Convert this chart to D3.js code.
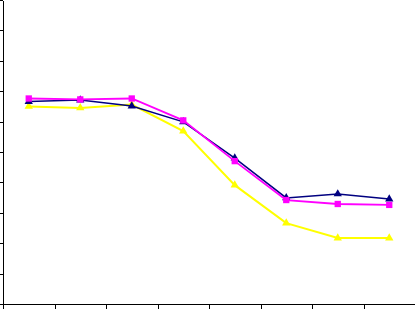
<!DOCTYPE html>
<html>
<head>
<meta charset="utf-8">
<script src="https://cdn.jsdelivr.net/npm/d3@7"></script>
<style>
  body { margin: 0; background: #fff; }
  .axis path, .axis line { stroke: #000; shape-rendering: crispEdges; }
  .axis text { display: none; }
</style>
</head>
<body>
<div id="chart"></div>
<script>
const categories = [1, 2, 3, 4, 5, 6, 7, 8];
const navyValues = [66.6, 67.1, 65.1, 59.9, 48.0, 34.9, 36.2, 34.5];
const magentaValues = [67.6, 67.3, 67.6, 60.4, 47.0, 34.2, 32.9, 32.6];
const yellowValues = [65.0, 64.5, 65.6, 56.9, 39.1, 26.6, 21.7, 21.7];
const yTicks = [0, 10, 20, 30, 40, 50, 60, 70, 80, 90, 100];

const margin = { top: 0, right: 0, bottom: 8, left: 3 },
  width = 415 - margin.left - margin.right,
  height = 312 - margin.top - margin.bottom;

const svg = d3.select('#chart')
  .append('svg')
  .attr('width', width + margin.left + margin.right)
  .attr('height', height + margin.top + margin.bottom)
  .append('g')
  .attr('transform', `translate(${margin.left},${margin.top})`);

// category boundaries on a linear scale, points sit in the middle
const x = d3.scaleLinear().domain([0, categories.length]).range([0, width]);
const y = d3.scaleLinear().domain([0, 100]).range([height, 0]);

svg.append('g')
  .attr('class', 'axis')
  .attr('transform', `translate(0,${height})`)
  .call(d3.axisBottom(x).tickValues(d3.range(0, categories.length)).tickSize(5).tickSizeOuter(0));

svg.append('g')
  .attr('class', 'axis')
  .call(d3.axisLeft(y).tickValues(yTicks).tickSize(3).tickSizeOuter(0));

const series = [
  { values: navyValues, color: '#000080', marker: 'triangle', width: 1.5 },
  { values: magentaValues, color: '#ff00ff', marker: 'square', width: 1.8 },
  { values: yellowValues, color: '#ffff00', marker: 'triangle', width: 2 },
];

const line = d3.line()
  .x((d, i) => x(i + 0.5))
  .y((d) => y(d));

// draw yellow first so navy/magenta sit on top
[series[2], series[0], series[1]].forEach((s) => {
  svg.append('path')
    .datum(s.values)
    .attr('fill', 'none')
    .attr('stroke', s.color)
    .attr('stroke-width', s.width)
    .attr('d', line);

  const sym = d3.symbol()
    .type(s.marker === 'square' ? d3.symbolSquare : d3.symbolTriangle)
    .size(s.marker === 'square' ? 40 : 30);

  svg.append('g')
    .selectAll('path')
    .data(s.values)
    .join('path')
    .attr('transform', (d, i) => `translate(${x(i + 0.5)},${y(d)})`)
    .attr('d', sym)
    .attr('fill', s.color);
});
</script>
</body>
</html>
